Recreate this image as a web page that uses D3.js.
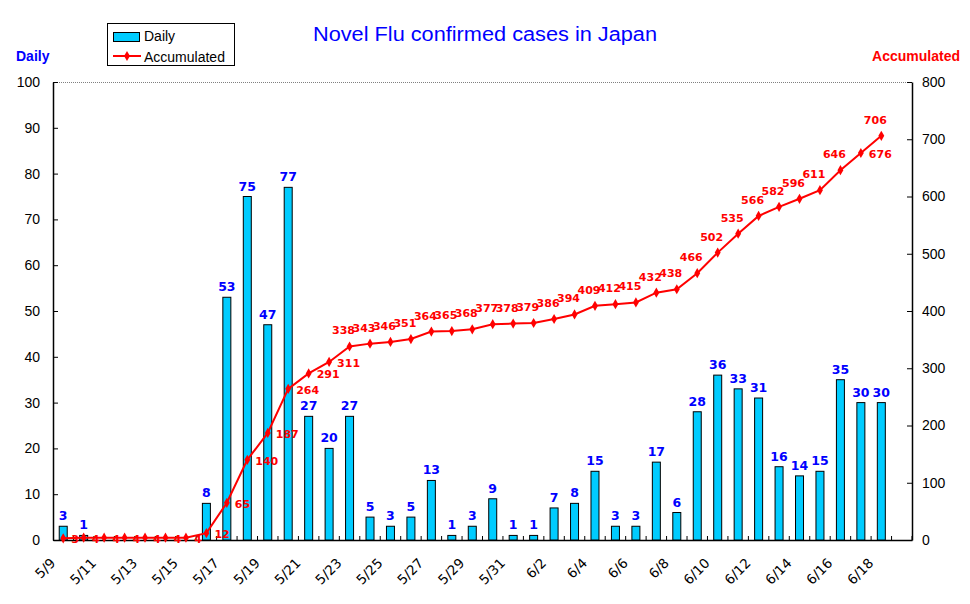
<!DOCTYPE html>
<html>
<head>
<meta charset="utf-8">
<script src="https://cdn.jsdelivr.net/npm/d3@7"></script>
<style>
  body { margin: 0; background: #fff; }
  svg { display: block; font-family: 'Liberation Sans', Arial, sans-serif; }
  .tick-label { font-size: 14px; fill: #000; }
  .x-label { font-size: 13.5px; fill: #000; font-family: 'DejaVu Sans', sans-serif; }
  .bar { fill: #00ccff; stroke: #000; stroke-width: 1; }
  .bar-label { font-size: 12.5px; font-weight: bold; fill: #0000ff; text-anchor: middle; font-family: 'DejaVu Sans', sans-serif; }
  .acc-label { font-size: 11px; font-weight: bold; fill: #ff0000; font-family: 'DejaVu Sans', sans-serif; }
  .acc-line { fill: none; stroke: #ff0000; stroke-width: 2; }
  .acc-dot { fill: #ff0000; }
</style>
</head>
<body>
<svg id="chart" width="970" height="604"></svg>
<script>
var dates = ['5/9', '5/10', '5/11', '5/12', '5/13', '5/14', '5/15', '5/16', '5/17', '5/18',
  '5/19', '5/20', '5/21', '5/22', '5/23', '5/24', '5/25', '5/26', '5/27', '5/28',
  '5/29', '5/30', '5/31', '6/1', '6/2', '6/3', '6/4', '6/5', '6/6', '6/7',
  '6/8', '6/9', '6/10', '6/11', '6/12', '6/13', '6/14', '6/15', '6/16', '6/17',
  '6/18', '6/19'];

var daily = [3, 1, 0, 0, 0, 0, 0, 8, 53, 75,
  47, 77, 27, 20, 27, 5, 3, 5, 13, 1,
  3, 9, 1, 1, 7, 8, 15, 3, 3, 17,
  6, 28, 36, 33, 31, 16, 14, 15, 35, 30,
  30];

var accumulated = [3, 4, 4, 4, 4, 4, 4, 12, 65, 140,
  187, 264, 291, 311, 338, 343, 346, 351, 364, 365,
  368, 377, 378, 379, 386, 394, 409, 412, 415, 432,
  438, 466, 502, 535, 566, 582, 596, 611, 646, 676,
  706];

var dailyTicks = [0, 10, 20, 30, 40, 50, 60, 70, 80, 90, 100];
var accTicks = [0, 100, 200, 300, 400, 500, 600, 700, 800];

var PLOT = { left: 53, right: 912, top: 82, bottom: 540 };

var svg = d3.select('#chart');

var xScale = d3.scaleBand()
  .domain(dates)
  .range([PLOT.left, PLOT.right])
  .padding(0);

var yDaily = d3.scaleLinear().domain([0, 100]).range([PLOT.bottom, PLOT.top]);
var yAcc = d3.scaleLinear().domain([0, 800]).range([PLOT.bottom, PLOT.top]);

var BAR_W = 8;
function cx(i) { return xScale(dates[i]) + xScale.bandwidth() / 2; }

// title
svg.append('text')
  .attr('x', 313).attr('y', 41)
  .attr('textLength', 344)
  .attr('lengthAdjust', 'spacingAndGlyphs')
  .style('font-size', '20px')
  .style('fill', '#0000ff')
  .text('Novel Flu confirmed cases in Japan');

svg.append('text')
  .attr('x', 16).attr('y', 61)
  .style('font-size', '14px').style('font-weight', 'bold').style('fill', '#0000ff')
  .text('Daily');

svg.append('text')
  .attr('x', 960).attr('y', 61)
  .attr('text-anchor', 'end')
  .style('font-size', '14px').style('font-weight', 'bold').style('fill', '#ff0000')
  .text('Accumulated');

// top border, dotted
svg.append('line')
  .attr('x1', PLOT.left).attr('x2', PLOT.right)
  .attr('y1', PLOT.top + 0.5).attr('y2', PLOT.top + 0.5)
  .attr('stroke', '#808080').attr('stroke-dasharray', '1,1');

// left axis
var leftAxis = d3.axisLeft(yDaily).tickValues(dailyTicks).tickSizeInner(-5).tickSizeOuter(0).tickPadding(13);
var gl = svg.append('g').attr('transform', 'translate(' + PLOT.left + ',0)').call(leftAxis);

// right axis
var rightAxis = d3.axisRight(yAcc).tickValues(accTicks).tickSizeInner(-5).tickSizeOuter(0).tickPadding(10);
var gr = svg.append('g').attr('transform', 'translate(' + PLOT.right + ',0)').call(rightAxis);

[gl, gr].forEach(function(g) {
  g.select('.domain').attr('stroke', '#000').attr('stroke-width', 1.5);
  g.selectAll('.tick line').attr('stroke', '#000');
  g.selectAll('.tick text').attr('class', 'tick-label').attr('font-family', null).attr('font-size', null);
});

// x axis
var xAxis = d3.axisBottom(xScale)
  .tickSize(0)
  .tickFormat(function(d, i) { return i % 2 === 0 ? d : ''; });

var gx = svg.append('g')
  .attr('transform', 'translate(0,' + PLOT.bottom + ')')
  .call(xAxis);

gx.select('.domain').attr('stroke', '#000').attr('stroke-width', 1.5);
gx.selectAll('.tick text')
  .attr('class', 'x-label')
  .attr('font-family', null).attr('font-size', null)
  .attr('text-anchor', 'end')
  .attr('transform', 'translate(-7,24) rotate(-45)')
  .attr('y', 0).attr('dy', 0);

// category boundary ticks
svg.append('g').selectAll('line')
  .data(dates)
  .enter().append('line')
  .attr('x1', function(d) { return xScale(d) + xScale.bandwidth(); })
  .attr('x2', function(d) { return xScale(d) + xScale.bandwidth(); })
  .attr('y1', PLOT.bottom).attr('y2', PLOT.bottom - 4)
  .attr('stroke', '#000');

// bars
svg.append('g').selectAll('.bar')
  .data(daily)
  .enter().append('rect')
  .attr('class', 'bar')
  .attr('x', function(d, i) { return cx(i) - BAR_W / 2; })
  .attr('width', BAR_W)
  .attr('y', function(d) { return yDaily(d); })
  .attr('height', function(d) { return PLOT.bottom - yDaily(d); })
  .style('display', function(d) { return d > 0 ? null : 'none'; });

// accumulated line
var line = d3.line()
  .x(function(d, i) { return cx(i); })
  .y(function(d) { return yAcc(d); });

svg.append('path')
  .datum(accumulated)
  .attr('class', 'acc-line')
  .attr('d', line);

svg.append('g').selectAll('.acc-dot')
  .data(accumulated)
  .enter().append('path')
  .attr('class', 'acc-dot')
  .attr('d', d3.symbol(d3.symbolDiamond, 30))
  .attr('transform', function(d, i) { return 'translate(' + cx(i) + ',' + yAcc(d) + ')'; });

// bar labels
svg.append('g').selectAll('.bar-label')
  .data(daily)
  .enter().append('text')
  .attr('class', 'bar-label')
  .attr('x', function(d, i) { return cx(i); })
  .attr('y', function(d) { return yDaily(d) - 6; })
  .text(function(d) { return d > 0 ? d : ''; });

// accumulated labels: right of point early on, above later
function labelRight(i) { return i <= 13 || i === 39; }

svg.append('g').selectAll('.acc-label')
  .data(accumulated)
  .enter().append('text')
  .attr('class', 'acc-label')
  .attr('text-anchor', function(d, i) { return labelRight(i) ? 'start' : 'middle'; })
  .attr('x', function(d, i) { return labelRight(i) ? cx(i) + 8 : cx(i) - 6; })
  .attr('y', function(d, i) { return labelRight(i) ? yAcc(d) + 5 : yAcc(d) - 12; })
  .text(function(d) { return d; });

// legend
var legend = svg.append('g').attr('transform', 'translate(107,23)');
legend.append('rect')
  .attr('x', 0.5).attr('y', 0.5).attr('width', 127).attr('height', 42)
  .attr('fill', '#fff').attr('stroke', '#000');
legend.append('rect')
  .attr('class', 'bar')
  .attr('x', 6.5).attr('y', 9.5).attr('width', 26).attr('height', 9);
legend.append('text')
  .attr('x', 37).attr('y', 18)
  .style('font-size', '14px')
  .text('Daily');
legend.append('line')
  .attr('x1', 6).attr('x2', 34).attr('y1', 33).attr('y2', 33)
  .attr('stroke', '#ff0000').attr('stroke-width', 2);
legend.append('path')
  .attr('class', 'acc-dot')
  .attr('d', d3.symbol(d3.symbolDiamond, 30))
  .attr('transform', 'translate(20,33)');
legend.append('text')
  .attr('x', 37).attr('y', 39)
  .style('font-size', '14px')
  .text('Accumulated');
</script>
</body>
</html>
